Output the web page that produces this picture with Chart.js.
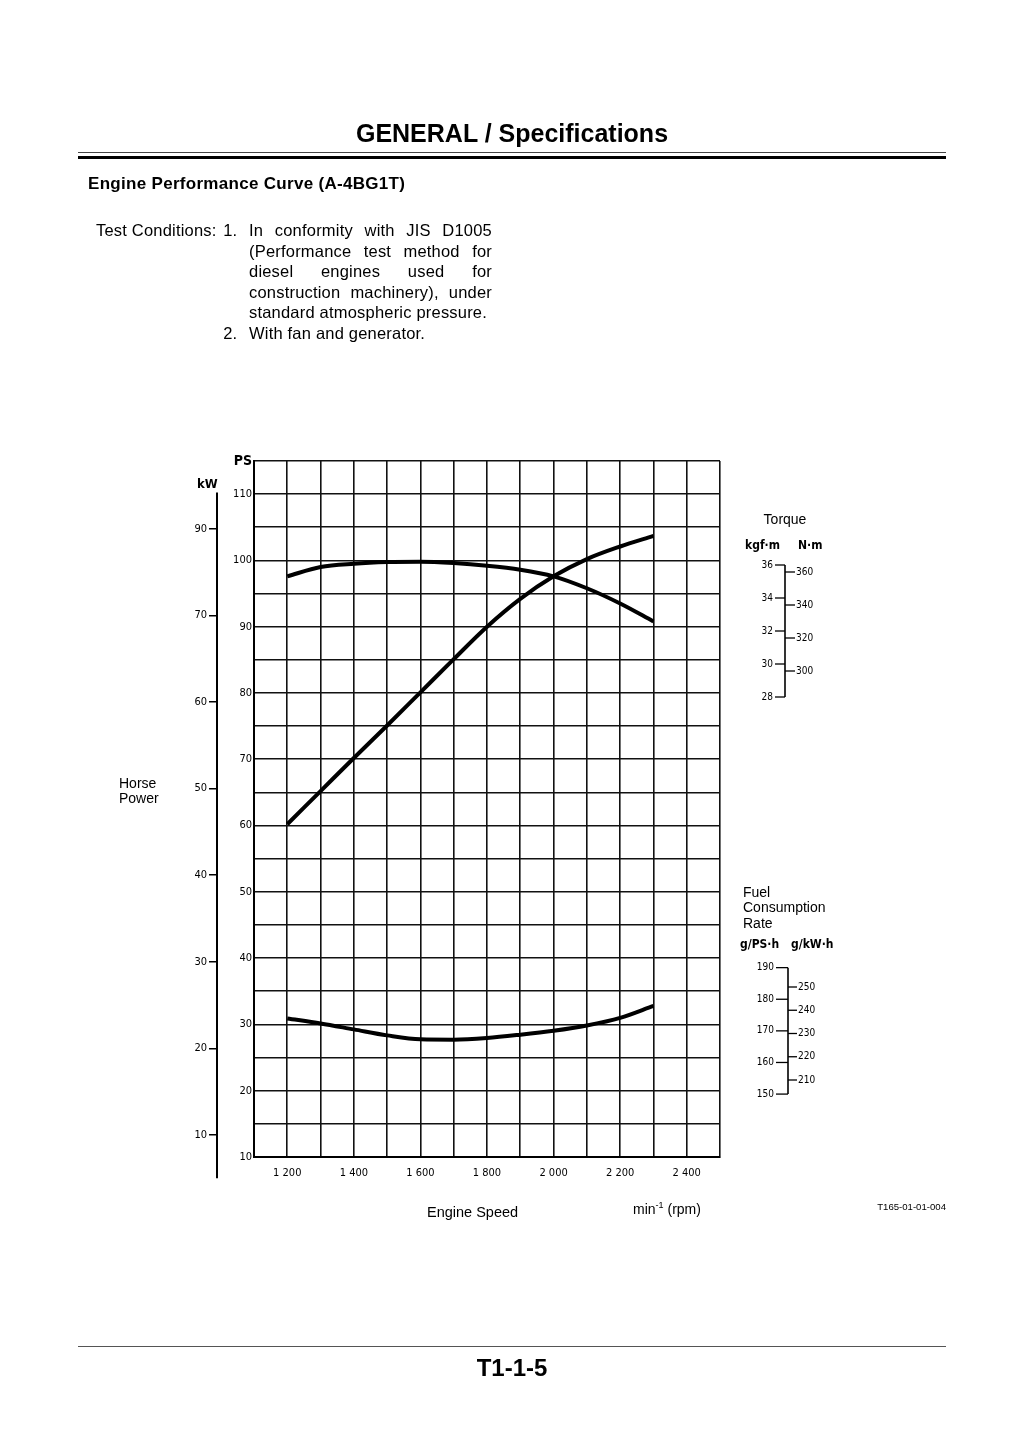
<!DOCTYPE html>
<html>
<head>
<meta charset="utf-8">
<script src="https://cdn.jsdelivr.net/npm/chart.js@4.4.1/dist/chart.umd.min.js"></script>
<style>
  html, body { margin: 0; padding: 0; background: #fff; overflow: hidden; }
  #page { position: relative; width: 1024px; height: 1449px; overflow: hidden;
          font-family: "Liberation Sans", Arial, sans-serif; color: #000; }
  #chart { position: absolute; left: 0; top: 0; }
  .t { position: absolute; white-space: nowrap; }
  .cond { font-family: "DejaVu Sans Condensed", "DejaVu Sans", sans-serif; }
  .j { text-align: justify; text-align-last: justify; }
</style>
</head>
<body>
<div id="page">
  <canvas id="chart" width="1024" height="1449"></canvas>

  <div class="t" style="left:0;width:1024px;text-align:center;top:121px;font-size:25px;line-height:25px;font-weight:bold;">GENERAL / Specifications</div>
  <div style="position:absolute;left:78px;width:868px;top:151.5px;height:1.5px;background:#444;"></div>
  <div style="position:absolute;left:78px;width:868px;top:155.5px;height:3px;background:#000;"></div>

  <div class="t" style="left:88px;top:175px;font-size:17px;line-height:17px;font-weight:bold;letter-spacing:0.3px;">Engine Performance Curve (A-4BG1T)</div>

  <div class="t" style="left:96px;top:220px;font-size:16.5px;line-height:20.6px;letter-spacing:0.2px;">Test Conditions:</div>
  <div class="t" style="right:787px;top:220px;font-size:16.5px;line-height:20.6px;text-align:right;">1.</div>
  <div class="t" style="right:787px;top:323px;font-size:16.5px;line-height:20.6px;text-align:right;">2.</div>
  <div style="position:absolute;left:249px;top:220px;width:243px;font-size:16.5px;line-height:20.6px;letter-spacing:0.2px;">
    <div class="j">In conformity with JIS D1005</div>
    <div class="j">(Performance test method for</div>
    <div class="j">diesel engines used for</div>
    <div class="j">construction machinery), under</div>
    <div style="white-space:nowrap;">standard atmospheric pressure.</div>
    <div style="white-space:nowrap;">With fan and generator.</div>
  </div>

  <div class="t cond" style="left:197px;top:477px;font-size:13px;line-height:13px;font-weight:bold;">kW</div>

  <div class="t" style="left:119px;top:776px;font-size:14px;line-height:15px;">Horse<br>Power</div>

  <div class="t" style="left:735px;top:512px;width:100px;text-align:center;font-size:14px;line-height:14px;">Torque</div>
  <div class="t cond" style="left:745px;top:539px;font-size:12px;line-height:12px;font-weight:bold;">kgf·m</div>
  <div class="t cond" style="left:798px;top:539px;font-size:12px;line-height:12px;font-weight:bold;">N·m</div>

  <div class="t" style="left:743px;top:885px;font-size:14px;line-height:15.3px;">Fuel<br>Consumption<br>Rate</div>
  <div class="t cond" style="left:740px;top:938px;font-size:12px;line-height:12px;font-weight:bold;">g/PS·h</div>
  <div class="t cond" style="left:791px;top:938px;font-size:12px;line-height:12px;font-weight:bold;">g/kW·h</div>

  <div class="t" style="left:427px;top:1205px;font-size:14.5px;line-height:14.5px;">Engine Speed</div>
  <div class="t" style="left:633px;top:1202px;font-size:14px;line-height:14px;">min<sup style="font-size:9px;line-height:0;vertical-align:6px;">-1</sup> (rpm)</div>
  <div class="t" style="right:78px;top:1202px;font-size:9.6px;line-height:9.6px;">T165-01-01-004</div>

  <div style="position:absolute;left:78px;width:868px;top:1345.5px;height:1.5px;background:#555;"></div>
  <div class="t" style="left:0;width:1024px;text-align:center;top:1356px;font-size:24px;line-height:24px;font-weight:bold;font-family:'Liberation Sans Narrow','Arial Narrow','Liberation Sans',sans-serif;">T1-1-5</div>
</div>

<script>
// ---------------- data ----------------
const engineSpeeds = [1200, 1300, 1400, 1500, 1600, 1700, 1800, 1900, 2000, 2100, 2200, 2300];
const outputPS     = [60.2, 65.2, 70.2, 75.1, 80.1, 85.1, 90.0, 94.2, 97.6, 100.2, 102.1, 103.7];
const torqueCurve  = [97.6, 99.0, 99.5, 99.75, 99.8, 99.6, 99.2, 98.6, 97.6, 95.8, 93.5, 90.8];
const fuelCurve    = [30.9, 30.15, 29.25, 28.35, 27.75, 27.7, 27.95, 28.45, 29.05, 29.85, 31.0, 32.8];

const speedTickValues = [1200, 1400, 1600, 1800, 2000, 2200, 2400];
const speedTickLabels = ['1 200', '1 400', '1 600', '1 800', '2 000', '2 200', '2 400'];
const psTickValues    = [10, 20, 30, 40, 50, 60, 70, 80, 90, 100, 110];
const kwTickValues    = [10, 20, 30, 40, 50, 60, 70, 80];
const kwTickLabels    = ['10', '20', '30', '40', '50', '60', '70', '90'];

const torqueKgfTicks = [28, 30, 32, 34, 36];
const torqueNmTicks  = [300, 320, 340, 360];
const fuelPsTicks    = [150, 160, 170, 180, 190];
const fuelKwTicks    = [210, 220, 230, 240, 250];

// ---------------- chart ----------------
const pts = arr => engineSpeeds.map((s, i) => ({ x: s, y: arr[i] }));
const lineDs = (label, arr) => ({
  label, data: pts(arr), borderColor: '#000', borderWidth: 4, pointRadius: 0,
  fill: false, cubicInterpolationMode: 'monotone', borderCapStyle: 'butt'
});

const condFont = 'DejaVu Sans Condensed';

function drawMiniScale(ctx, o) {
  ctx.strokeStyle = '#000';
  ctx.fillStyle = '#000';
  ctx.lineWidth = 1.6;
  ctx.beginPath();
  ctx.moveTo(o.x, o.top);
  ctx.lineTo(o.x, o.bottom);
  ctx.stroke();
  ctx.font = '10px "' + condFont + '"';
  ctx.textBaseline = 'middle';
  ctx.lineWidth = 1.3;
  o.leftTicks.forEach(v => {
    const y = o.leftY(v);
    ctx.beginPath(); ctx.moveTo(o.x - o.leftLen, y); ctx.lineTo(o.x, y); ctx.stroke();
    ctx.textAlign = 'right';
    ctx.fillText(String(v), o.x - o.leftLen - 2, y);
  });
  o.rightTicks.forEach(v => {
    const y = o.rightY(v);
    ctx.beginPath(); ctx.moveTo(o.x, y); ctx.lineTo(o.x + o.rightLen, y); ctx.stroke();
    ctx.textAlign = 'left';
    ctx.fillText(String(v), o.x + o.rightLen + 1, y);
  });
}

const extrasPlugin = {
  id: 'extras',
  afterDraw(chart) {
    const ctx = chart.ctx;
    const kw = chart.scales.kw;
    ctx.save();
    // kW axis line (extends beyond the plot area like the original)
    ctx.strokeStyle = '#000';
    ctx.lineWidth = 2;
    ctx.beginPath();
    ctx.moveTo(kw.right, kw.getPixelForValue(84.2));
    ctx.lineTo(kw.right, kw.getPixelForValue(5));
    ctx.stroke();

    // Torque mini scale
    const kgfY = v => 697 - (v - 28) * 16.5;
    const nmY = v => 671 - (v - 300) * 1.65;
    drawMiniScale(ctx, {
      x: 785, top: kgfY(36), bottom: kgfY(28),
      leftTicks: torqueKgfTicks, leftY: kgfY, leftLen: 10,
      rightTicks: torqueNmTicks, rightY: nmY, rightLen: 10
    });

    // Fuel consumption mini scale
    const kwhY = v => 1080 - (v - 210) * 2.325;
    const pshY = v => kwhY(v / 0.7355);
    drawMiniScale(ctx, {
      x: 788, top: pshY(190), bottom: pshY(150),
      leftTicks: fuelPsTicks, leftY: pshY, leftLen: 12,
      rightTicks: fuelKwTicks, rightY: kwhY, rightLen: 9
    });
    ctx.restore();
  }
};

const gridStyle = { color: '#111', lineWidth: 1.6, drawTicks: false };

new Chart(document.getElementById('chart'), {
  type: 'line',
  data: {
    datasets: [
      lineDs('Output (PS)', outputPS),
      lineDs('Torque', torqueCurve),
      lineDs('Fuel Consumption Rate', fuelCurve)
    ]
  },
  options: {
    responsive: false,
    animation: false,
    layout: { padding: { left: 177, right: 304, top: 461, bottom: 262 } },
    plugins: { legend: { display: false }, tooltip: { enabled: false }, title: { display: false } },
    scales: {
      x: {
        type: 'linear', position: 'bottom', min: 1100, max: 2500,
        afterFit: s => { s.height = 30; },
        ticks: {
          stepSize: 100, autoSkip: false, maxRotation: 0, minRotation: 0, padding: 10,
          color: '#000', font: { family: condFont, size: 11 },
          callback: v => { const i = speedTickValues.indexOf(v); return i >= 0 ? speedTickLabels[i] : ''; }
        },
        grid: gridStyle,
        border: { display: true, color: '#000', width: 2 }
      },
      y: {
        type: 'linear', position: 'left', weight: 0, min: 10, max: 115,
        afterFit: s => { s.width = 37; },
        ticks: {
          stepSize: 5, autoSkip: false, padding: 2, color: '#000',
          font: ctx => (ctx.tick && ctx.tick.value === 115)
            ? { family: condFont, size: 14, weight: 'bold' }
            : { family: condFont, size: 11 },
          callback: v => v === 115 ? 'PS' : (psTickValues.includes(v) ? String(v) : '')
        },
        grid: gridStyle,
        border: { display: true, color: '#000', width: 2 }
      },
      kw: {
        type: 'linear', position: 'left', weight: 1, min: 7.46, max: 87.83,
        afterFit: s => { s.width = 40; },
        afterBuildTicks: s => { s.ticks = kwTickValues.map(v => ({ value: v })); },
        ticks: {
          autoSkip: false, padding: 2, color: '#000', font: { family: condFont, size: 11 },
          callback: v => { const i = kwTickValues.indexOf(v); return i >= 0 ? kwTickLabels[i] : ''; }
        },
        grid: { drawOnChartArea: false, drawTicks: true, tickLength: 8, color: '#000', lineWidth: 1.5 },
        border: { display: false }
      }
    }
  },
  plugins: [extrasPlugin]
});
</script>
</body>
</html>
